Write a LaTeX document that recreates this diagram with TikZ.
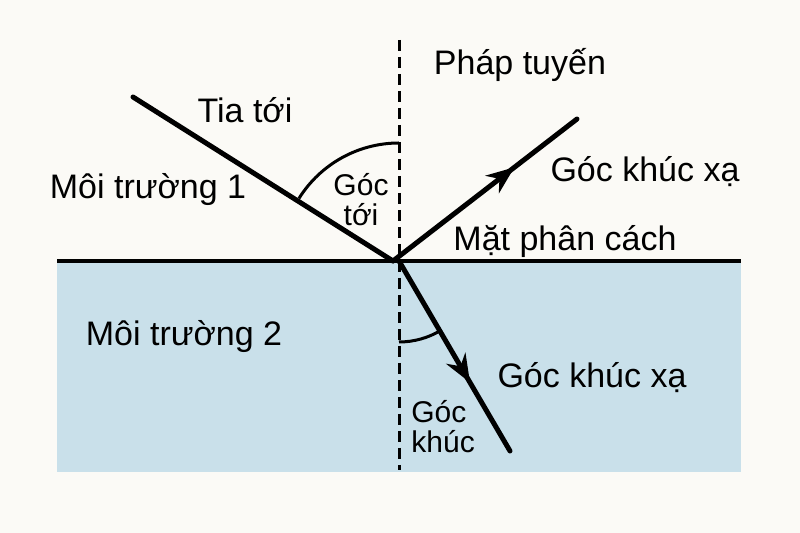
\documentclass[tikz,border=0pt]{standalone}
\usepackage{fontspec}
\setmainfont{Liberation Sans}
\usetikzlibrary{arrows.meta, decorations.markings}
\definecolor{paper}{RGB}{251,250,246}
\definecolor{water}{RGB}{201,224,234}
\tikzset{
  ray/.style={line width=2.5pt, line cap=round},
  midarrow/.style={postaction={decorate},
    decoration={markings, mark=at position #1 with {\arrow{Stealth[length=14pt, width=11pt]}}}},
  normal line/.style={line width=1.5pt, dash pattern=on 5.5pt off 3pt},
  lbl/.style={font=\fontsize{17}{20}\selectfont, inner sep=0pt},
  small lbl/.style={font=\fontsize{15}{15}\selectfont, inner sep=0pt},
}

\begin{document}
\begin{tikzpicture}[x=0.5pt, y=-0.5pt]
        % background and media
        \fill[paper] (0,0) rectangle (800,533);
        \useasboundingbox (0,0) rectangle (800,533);
        \fill[water] (57,261) rectangle (741,472);

        % points
        \coordinate (O) at (393,261);
        \coordinate (F) at (399,261);
        \coordinate (A) at (133,97);
        \coordinate (R) at (577,119);
        \coordinate (T) at (510,451);
        \coordinate (N1) at (399,40);
        \coordinate (N2) at (399,470);
        \coordinate (S1) at (57,261);
        \coordinate (S2) at (741,261);

        % normal and surface
        \draw[normal line] (N1) -- (N2);
        \draw[line width=2pt] (S1) -- (S2);

        % rays
        \draw[ray] (A) -- (O);
        \draw[ray, midarrow=0.66] (O) -- (R);
        \draw[ray, midarrow=0.64] (F) -- (T);

        % angles
        \draw[line width=1.5pt] (F) ++(90:59pt) arc[start angle=90, end angle=148, radius=59pt];
        \draw[line width=1.5pt] (F) ++(-90:40.5pt) arc[start angle=-90, end angle=-59, radius=40.5pt];

        % labels
        \node[lbl] (phap) at (520,65) {Pháp tuyến};
        \node[lbl] (tia) at (245,110) {Tia tới};
        \node[lbl] (mt1) at (148,190) {Môi trường 1};
        \node[lbl] (mt2) at (184,337) {Môi trường 2};
        \node[lbl] (mat) at (565,242) {Mặt phân cách};
        \node[lbl] (kx1) at (645,172) {Góc khúc xạ};
        \node[lbl] (kx2) at (592,378) {Góc khúc xạ};
        \node[small lbl, align=center] (goctoi) at (361,200) {Góc\\tới};
        \node[small lbl, align=left, anchor=west] (gockhuc) at (411,427) {Góc\\khúc};
\end{tikzpicture}
\end{document}
